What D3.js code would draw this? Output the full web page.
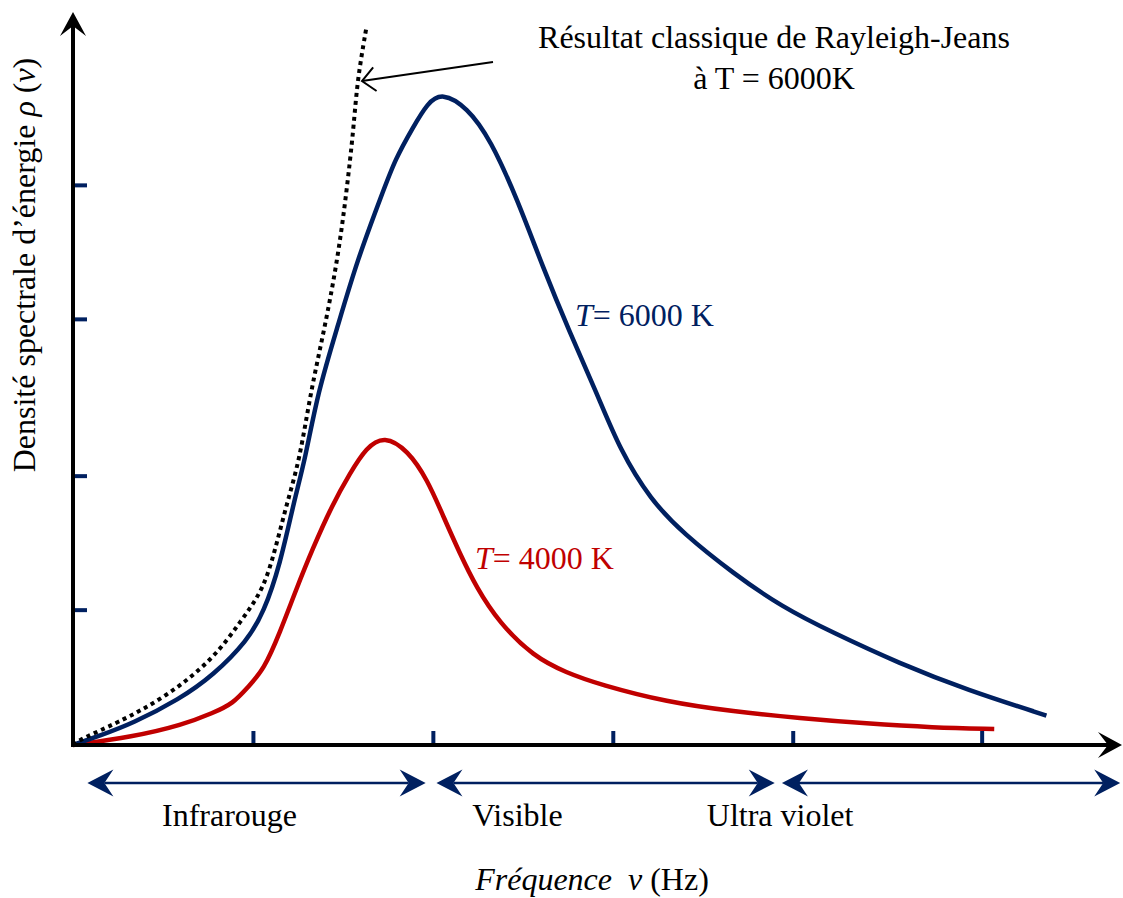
<!DOCTYPE html>
<html>
<head>
<meta charset="utf-8">
<script src="https://cdn.jsdelivr.net/npm/d3@7"></script>
<style>
  body { margin: 0; background: #fff; }
  text { font-family: "Liberation Serif", "Times New Roman", serif; }
</style>
</head>
<body>
<script>
// values, arbitrary units (frequency, spectral density)
var planck6000 = [[0,0],[0.15,0.07],[0.33,0.16],[0.59,0.34],[0.78,0.52],[0.97,0.78],[1.06,0.99],
  [1.15,1.34],[1.23,1.83],[1.29,2.13],[1.36,2.63],[1.47,3.12],[1.58,3.62],[1.72,4.12],[1.79,4.37],
  [1.89,4.61],[1.97,4.79],[2.05,4.87],[2.19,4.76],[2.32,4.52],[2.47,4.07],[2.61,3.57],[2.76,3.08],
  [2.91,2.63],[3.04,2.20],[3.21,1.83],[3.39,1.58],[3.67,1.28],[3.94,1.03],[4.22,0.84],[4.59,0.61],
  [4.97,0.41],[5.41,0.22]];
var planck4000 = [[0,0],[0.33,0.06],[0.61,0.15],[0.78,0.24],[0.89,0.31],[0.97,0.43],[1.06,0.56],
  [1.15,0.84],[1.24,1.16],[1.33,1.46],[1.44,1.79],[1.54,2.03],[1.63,2.22],[1.73,2.31],[1.86,2.20],
  [1.97,1.98],[2.06,1.70],[2.15,1.43],[2.24,1.18],[2.37,0.91],[2.56,0.66],[2.74,0.54],[2.93,0.45],
  [3.30,0.32],[3.67,0.25],[4.04,0.20],[4.41,0.16],[4.78,0.13],[5.12,0.12]];
var rayleighJeans = [[0,0],[0.05,0.05],[0.24,0.16],[0.52,0.36],[0.78,0.64],[0.93,0.92],[1.06,1.16],
  [1.13,1.49],[1.19,1.81],[1.26,2.13],[1.32,2.63],[1.40,3.12],[1.47,3.62],[1.52,4.12],[1.56,4.61],
  [1.58,4.96],[1.63,5.35]];

var xTicks = [1, 2, 3, 4, 5.05];
var yTicks = [1.01, 2.01, 3.18, 4.18];

var bands = [[0.08, 1.96], [2.02, 3.9], [3.94, 5.82]];
var bandNames = ["Infrarouge", "Visible", "Ultra violet"];
var bandLabelX = [0.87, 2.47, 3.93];

var navy = "#002060", red = "#c00000";

var width = 1123, height = 898;

var x = d3.scaleLinear().domain([0, 5.83]).range([73, 1122]);
var y = d3.scaleLinear().domain([0, 5.47]).range([745, 12]);

var svg = d3.select("body").append("svg")
    .attr("width", width)
    .attr("height", height);

var defs = svg.append("defs");

function marker(id, d, color, w, stroked) {
  defs.append("marker")
      .attr("id", id)
      .attr("viewBox", "-30 -16 60 32")
      .attr("markerWidth", 60)
      .attr("markerHeight", 32)
      .attr("markerUnits", "userSpaceOnUse")
      .attr("refX", 0).attr("refY", 0)
      .attr("orient", "auto-start-reverse")
    .append("path")
      .attr("d", d)
      .attr("fill", stroked ? "none" : color)
      .attr("stroke", stroked ? color : "none")
      .attr("stroke-width", w || 0);
}
// notch sits at the line end, tip sticks out beyond it
marker("axisHead", "M14,0 L-10,-13 L0,0 L-10,13 Z", "#000");
marker("bandHead", "M17,0 L-9,-13.5 L0,0 L-9,13.5 Z", navy);
marker("noteHead", "M-13,-12 L0,0 L-13,12", "#000", 2, true);

var line = d3.line()
    .x(function(d) { return x(d[0]); })
    .y(function(d) { return y(d[1]); })
    .curve(d3.curveBasis);

// ticks (drawn under the axis lines)
svg.append("g")
    .attr("transform", "translate(0," + y(0) + ")")
    .call(d3.axisTop(x).tickValues(xTicks).tickSize(14).tickFormat(""))
    .call(function(g) { g.select(".domain").remove(); })
    .selectAll("line").attr("stroke", navy).attr("stroke-width", 4);

svg.append("g")
    .attr("transform", "translate(" + x(0) + ",0)")
    .call(d3.axisRight(y).tickValues(yTicks).tickSize(14).tickFormat(""))
    .call(function(g) { g.select(".domain").remove(); })
    .selectAll("line").attr("stroke", navy).attr("stroke-width", 4);

// curves
svg.append("path")
    .datum(planck4000)
    .attr("d", line)
    .attr("fill", "none")
    .attr("stroke", red)
    .attr("stroke-width", 4.5);

svg.append("path")
    .datum(planck6000)
    .attr("d", line)
    .attr("fill", "none")
    .attr("stroke", navy)
    .attr("stroke-width", 4.5);

svg.append("path")
    .datum(rayleighJeans)
    .attr("d", line)
    .attr("fill", "none")
    .attr("stroke", "#000")
    .attr("stroke-width", 4)
    .attr("stroke-dasharray", "4,4");

// axes with arrows
svg.append("line")
    .attr("x1", x(0) - 2).attr("y1", y(0))
    .attr("x2", x.range()[1] - 14).attr("y2", y(0))
    .attr("stroke", "#000").attr("stroke-width", 4)
    .attr("marker-end", "url(#axisHead)");

svg.append("line")
    .attr("x1", x(0)).attr("y1", y(0) + 2)
    .attr("x2", x(0)).attr("y2", y.range()[1] + 14)
    .attr("stroke", "#000").attr("stroke-width", 4)
    .attr("marker-end", "url(#axisHead)");

// spectral bands
var bandY = 783;
svg.selectAll(".band")
    .data(bands)
  .enter().append("line")
    .attr("class", "band")
    .attr("x1", function(d) { return x(d[0]) + 17; })
    .attr("x2", function(d) { return x(d[1]) - 17; })
    .attr("y1", bandY).attr("y2", bandY)
    .attr("stroke", navy).attr("stroke-width", 2.5)
    .attr("marker-start", "url(#bandHead)")
    .attr("marker-end", "url(#bandHead)");

svg.selectAll(".bandLabel")
    .data(bandNames)
  .enter().append("text")
    .attr("class", "bandLabel")
    .attr("x", function(d, i) { return x(bandLabelX[i]); })
    .attr("y", 826)
    .attr("text-anchor", "middle")
    .attr("font-size", 32)
    .text(function(d) { return d; });

// axis titles
var xt = svg.append("text")
    .attr("x", 592).attr("y", 890)
    .attr("text-anchor", "middle")
    .attr("font-size", 32);
xt.append("tspan").attr("font-style", "italic").text("Fréquence");
xt.append("tspan").attr("font-style", "italic").attr("dx", 16).text("ν");
xt.append("tspan").attr("dx", 8).text("(Hz)");

var yt = svg.append("text")
    .attr("transform", "translate(35,265) rotate(-90)")
    .attr("text-anchor", "middle")
    .attr("font-size", 32);
yt.append("tspan").text("Densité spectrale d’énergie ");
yt.append("tspan").attr("font-style", "italic").text("ρ");
yt.append("tspan").text(" (");
yt.append("tspan").attr("font-style", "italic").text("ν");
yt.append("tspan").text(")");

// curve labels
function curveLabel(px, py, rest, color) {
  var t = svg.append("text")
      .attr("x", px).attr("y", py)
      .attr("font-size", 32)
      .attr("fill", color);
  t.append("tspan").attr("font-style", "italic").text("T");
  t.append("tspan").text("= " + rest);
}
curveLabel(575, 326, "6000 K", navy);
curveLabel(475, 569, "4000 K", red);

// Rayleigh-Jeans note
svg.append("text")
    .attr("x", 774).attr("y", 48)
    .attr("text-anchor", "middle")
    .attr("font-size", 32)
    .text("Résultat classique de Rayleigh-Jeans");
svg.append("text")
    .attr("x", 774).attr("y", 89)
    .attr("text-anchor", "middle")
    .attr("font-size", 32)
    .text("à T = 6000K");

svg.append("line")
    .attr("x1", 493).attr("y1", 62)
    .attr("x2", 362).attr("y2", 81)
    .attr("stroke", "#000").attr("stroke-width", 2)
    .attr("marker-end", "url(#noteHead)");
</script>
</body>
</html>
